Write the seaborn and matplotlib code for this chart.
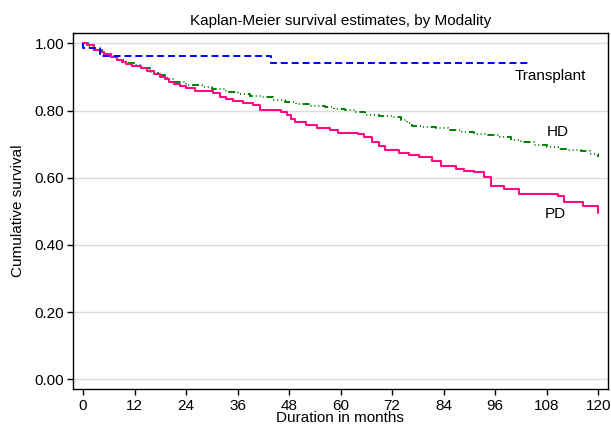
import matplotlib
matplotlib.use('Agg')
import matplotlib.pyplot as plt
import seaborn as sns
import numpy as np

# Kaplan-Meier step points (months, cumulative survival)
tx_time = [0, 0.05, 3.9, 43.7, 104]
tx_surv = [1.0, 0.985, 0.964, 0.942, 0.942]

hd_time = [0, 1.2, 2.6, 4.5, 6.2, 8, 10, 12, 13.5, 15.5, 17.5, 19.5, 21.3, 24, 27.8,
           30, 33.4, 36, 38.8, 41.5, 44.3, 47, 49.7, 53, 56.4, 58.5, 61, 63.5, 65.7,
           69, 72, 74, 75.5, 76.7, 79, 82.1, 85, 88.3, 91, 94.2, 97, 99.6, 102, 105,
           108, 110.6, 113, 116, 118, 120]
hd_surv = [1.0, 0.99, 0.98, 0.97, 0.961, 0.952, 0.943, 0.935, 0.928, 0.916, 0.905,
           0.894, 0.885, 0.876, 0.870, 0.865, 0.855, 0.850, 0.845, 0.840, 0.833,
           0.827, 0.821, 0.815, 0.810, 0.806, 0.801, 0.796, 0.788, 0.785, 0.781,
           0.772, 0.763, 0.754, 0.751, 0.747, 0.741, 0.736, 0.731, 0.726, 0.720,
           0.714, 0.707, 0.699, 0.692, 0.686, 0.683, 0.679, 0.672, 0.662]

pd_time = [0, 1, 2.6, 4, 5, 6.5, 8, 9, 10, 11.5, 13.5, 15, 16.6, 18, 19, 20, 21.3, 22.5,
           24, 26, 30.2, 32, 33.4, 35, 37.2, 39.6, 41.2, 44.7, 46, 47.4, 48.5, 49.4,
           52, 54.4, 57.5, 59.4, 64, 65.5, 67.3, 69, 70.4, 73.5, 76, 78.2, 81.3, 83.3,
           86.8, 88.7, 91, 93.3, 95, 98, 101.5, 110.6, 112, 116.5, 119.9, 120]
pd_surv = [1.0, 0.995, 0.982, 0.975, 0.968, 0.96, 0.952, 0.946, 0.94, 0.934, 0.928,
           0.918, 0.908, 0.900, 0.893, 0.886, 0.878, 0.872, 0.866, 0.858, 0.853,
           0.842, 0.835, 0.828, 0.823, 0.818, 0.803, 0.801, 0.795, 0.788, 0.776,
           0.765, 0.758, 0.749, 0.742, 0.734, 0.731, 0.720, 0.706, 0.695, 0.684,
           0.674, 0.668, 0.662, 0.651, 0.634, 0.627, 0.621, 0.617, 0.603, 0.575,
           0.568, 0.553, 0.545, 0.527, 0.515, 0.495, 0.495]

x_ticks = [0, 12, 24, 36, 48, 60, 72, 84, 96, 108, 120]
y_ticks = [0.0, 0.2, 0.4, 0.6, 0.8, 1.0]

sns.set_style('white')
plt.rcParams['font.family'] = ['Liberation Sans', 'DejaVu Sans']
plt.rcParams['font.size'] = 11
plt.rcParams['text.color'] = 'black'
plt.rcParams['axes.labelcolor'] = 'black'
plt.rcParams['xtick.color'] = 'black'
plt.rcParams['ytick.color'] = 'black'

fig = plt.figure(figsize=(6.11, 4.28), dpi=100)
ax = fig.add_axes([0.119, 0.091, 0.8756, 0.831])

for y in y_ticks:
    ax.axhline(y, color='#dcdcdc', lw=1.0, zorder=0)

sns.lineplot(x=hd_time, y=hd_surv, ax=ax, estimator=None, drawstyle='steps-post',
             color='#008000', lw=1.4,
             linestyle=(0, (3.6, 1.5, 0.5, 1.5, 0.5, 1.5, 0.5, 1.5)))
sns.lineplot(x=pd_time, y=pd_surv, ax=ax, estimator=None, drawstyle='steps-post',
             color='#ff0a80', lw=1.5)
sns.lineplot(x=tx_time, y=tx_surv, ax=ax, estimator=None, drawstyle='steps-post',
             color='#0000ff', lw=1.4, linestyle=(0, (3.6, 2.0)))

ax.text(100.5, 0.902, 'Transplant', ha='left', va='center', fontsize=11, color='black')
ax.text(108, 0.737, 'HD', ha='left', va='center', fontsize=11, color='black')
ax.text(107.5, 0.493, 'PD', ha='left', va='center', fontsize=11, color='black')

ax.set_xlim(-2.4, 122.2)
ax.set_ylim(-0.029, 1.03)
ax.set_xticks(x_ticks)
ax.set_yticks(y_ticks)
ax.set_yticklabels([f'{v:.2f}' for v in y_ticks])
ax.tick_params(axis='both', direction='out', length=4, width=1, colors='black',
               labelsize=11, bottom=True, left=True)
ax.tick_params(axis='y', pad=2)
ax.tick_params(axis='x', pad=3)
for s in ax.spines.values():
    s.set_color('black')
    s.set_linewidth(1.0)

ax.set_title('Kaplan-Meier survival estimates, by Modality', fontsize=11, pad=6, color='black')
ax.set_xlabel('Duration in months', fontsize=11, labelpad=-1, color='black')
ax.set_ylabel('Cumulative survival', fontsize=11, labelpad=7, color='black')

fig.savefig('out.png', dpi=100)
